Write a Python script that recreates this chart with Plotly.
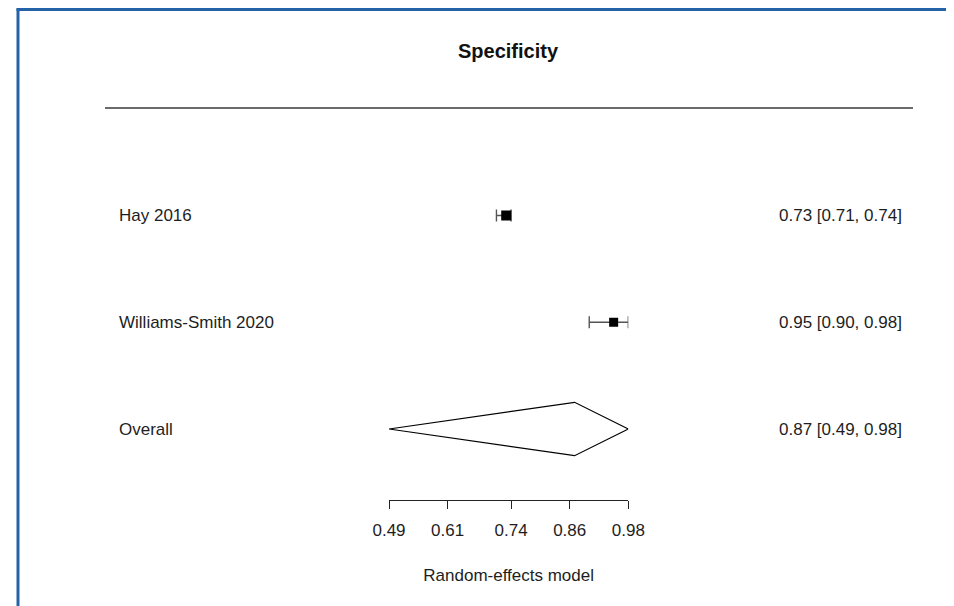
import plotly.graph_objects as go

# ---- data ----
studies = ["Hay 2016", "Williams-Smith 2020"]
study_est = [0.73, 0.95]
study_lo = [0.71, 0.90]
study_hi = [0.74, 0.98]
study_rows = [3, 2]

overall_label = "Overall"
overall_est = 0.87
overall_lo = 0.49
overall_hi = 0.98
overall_row = 1

tick_vals = [0.49, 0.61, 0.74, 0.86, 0.98]
tick_text = ["0.49", "0.61", "0.74", "0.86", "0.98"]

title_text = "Specificity"
xlabel_text = "Random-effects model"

# ---- layout helpers (window pixel -> paper); page body has an 8px margin ----
OFF = 8
W, H = 954 - OFF, 606 - OFF
def px(x):
    return (x - OFF) / W
def py(y):
    return 1 - (y - OFF) / H

FONT = "Arial, 'Liberation Sans', sans-serif"
TXT = "#1e1e1e"

fig = go.Figure()

# study estimates with CIs
sizes = [10, 9]
for name, e, l, h, r, s in zip(studies, study_est, study_lo, study_hi, study_rows, sizes):
    fig.add_trace(go.Scatter(
        x=[e], y=[r], mode="markers",
        marker=dict(symbol="square", size=s, color="black", line=dict(width=0)),
        error_x=dict(type="data", symmetric=False, array=[h - e], arrayminus=[e - l],
                     color="#555555", thickness=1.4, width=6),
        cliponaxis=False, hoverinfo="skip", name=name,
    ))

# overall diamond
dh = 0.25
fig.add_trace(go.Scatter(
    x=[overall_lo, overall_est, overall_hi, overall_est, overall_lo],
    y=[overall_row, overall_row + dh, overall_row, overall_row - dh, overall_row],
    mode="lines", fill="toself", fillcolor="white",
    line=dict(color="black", width=1.2), cliponaxis=False, hoverinfo="skip",
    name=overall_label,
))

annotations = []
# left labels
for name, r in zip(studies + [overall_label], study_rows + [overall_row]):
    annotations.append(dict(text=name, xref="paper", yref="y", x=px(117), y=r,
                            xanchor="left", yanchor="middle", showarrow=False,
                            font=dict(size=17, family=FONT, color=TXT)))
# right labels
for e, l, h, r in zip(study_est + [overall_est], study_lo + [overall_lo],
                      study_hi + [overall_hi], study_rows + [overall_row]):
    annotations.append(dict(text=f"{e:.2f} [{l:.2f}, {h:.2f}]", xref="paper", yref="y",
                            x=px(903.5), y=r, xanchor="right", yanchor="middle",
                            showarrow=False, font=dict(size=17, family=FONT, color=TXT)))
# title
annotations.append(dict(text=f"<b>{title_text}</b>", xref="paper", yref="paper",
                        x=px(508), y=py(51), xanchor="center", yanchor="middle",
                        showarrow=False, font=dict(size=20, family=FONT, color="#111111")))

shapes = [
    # header rule
    dict(type="line", xref="paper", yref="paper", x0=px(105), x1=px(913),
         y0=py(108), y1=py(108), line=dict(color="#6b6b6b", width=2)),
    # screenshot frame (blue)
    dict(type="line", xref="paper", yref="paper", x0=px(18), x1=px(18),
         y0=py(8.5), y1=0, line=dict(color="#2463a8", width=3)),
    dict(type="line", xref="paper", yref="paper", x0=px(16.5), x1=1,
         y0=py(9.5), y1=py(9.5), line=dict(color="#2463a8", width=3)),
]

row_px0 = 535.75
row_step = 106.75
y_top_px, y_bot_px = OFF, 500
fig.update_layout(
    width=W, height=H, margin=dict(l=0, r=0, t=0, b=0, pad=0, autoexpand=False),
    paper_bgcolor="white", plot_bgcolor="white", showlegend=False,
    font=dict(family=FONT, size=17, color=TXT),
    annotations=annotations, shapes=shapes,
    xaxis=dict(domain=[px(389), px(628.3)], range=[tick_vals[0], tick_vals[-1]],
               automargin=False,
               showline=True, linecolor="#222222", linewidth=1.2,
               ticks="outside", ticklen=8, tickwidth=1.2, tickcolor="#222222",
               tickvals=tick_vals, ticktext=tick_text, ticklabelstandoff=6,
               tickfont=dict(size=17, family=FONT, color=TXT),
               showgrid=False, zeroline=False, fixedrange=True,
               title=dict(text=xlabel_text, font=dict(size=17, family=FONT, color=TXT),
                          standoff=30)),
    yaxis=dict(domain=[py(y_bot_px), py(y_top_px)],
               range=[(row_px0 - y_bot_px) / row_step, (row_px0 - y_top_px) / row_step],
               automargin=False, visible=False, fixedrange=True),
)

fig.write_html("out.html")
